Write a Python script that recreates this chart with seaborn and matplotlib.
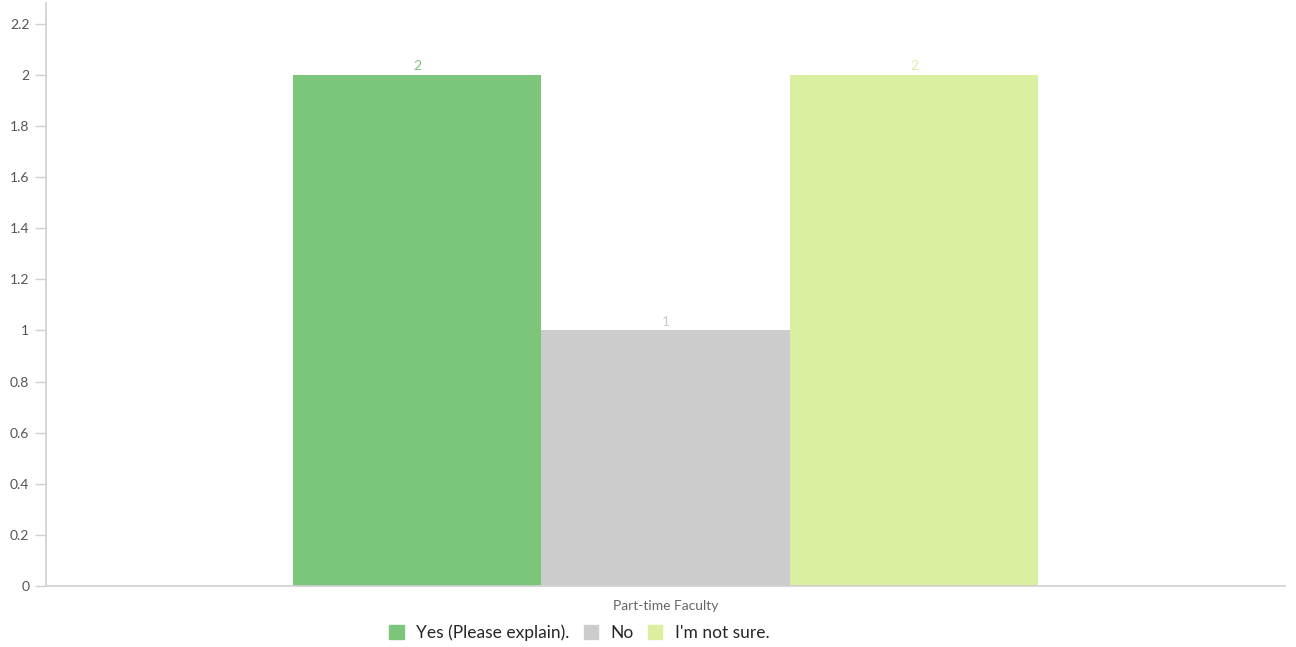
import pandas as pd
import matplotlib.pyplot as plt
import seaborn as sns

# data
groups = ["Part-time Faculty"]
responses = ["Yes (Please explain).", "No", "I'm not sure."]
counts = [2, 1, 2]
colors = ["#7BC67B", "#CCCCCC", "#DAEFA0"]

df = pd.DataFrame({
    "group": groups * len(responses),
    "response": responses,
    "count": counts,
})

sns.set_theme(style="white")
plt.rcParams['font.family'] = ['Lato', 'DejaVu Sans']

fig = plt.figure(figsize=(12.96, 6.47), dpi=100)
ax = fig.add_axes([0.0355, 0.0943, 0.956, 0.9007])

sns.barplot(data=df, x="group", y="count", hue="response", palette=colors,
            width=0.602, gap=0, saturation=1, linewidth=0, ax=ax, legend=False)

# value labels above bars, coloured like the bars
for container, col in zip(ax.containers, colors):
    ax.bar_label(container, labels=[f"{v:g}" for v in container.datavalues],
                 color=col, fontsize=10, padding=2)

ax.set_xlim(-0.5, 0.5)
ax.set_ylim(0, 2.28)
ax.set_yticks([0, 0.2, 0.4, 0.6, 0.8, 1, 1.2, 1.4, 1.6, 1.8, 2, 2.2])
ax.set_yticklabels(["0", "0.2", "0.4", "0.6", "0.8", "1", "1.2", "1.4",
                    "1.6", "1.8", "2", "2.2"])
ax.set_xlabel("")
ax.set_ylabel("")

for s in ["top", "right"]:
    ax.spines[s].set_visible(False)
for s in ["left", "bottom"]:
    ax.spines[s].set_color("#D0D0D0")
    ax.spines[s].set_linewidth(1.2)

ax.tick_params(axis="y", left=True, length=8, width=1, color="#D0D0D0",
               labelsize=10, labelcolor="#555555", pad=4)
ax.tick_params(axis="x", bottom=False, labelsize=10, labelcolor="#666666", pad=4)

# legend below the plot
handles = [plt.Rectangle((0, 0), 1, 1, color=c) for c in colors]
fig.legend(handles, responses, loc="center", bbox_to_anchor=(0.447, 0.022),
           ncol=3, frameon=False, fontsize=12.5, handlelength=0.85,
           handleheight=0.85, handletextpad=0.7, columnspacing=0.8)

plt.savefig("out.png", dpi=100)
